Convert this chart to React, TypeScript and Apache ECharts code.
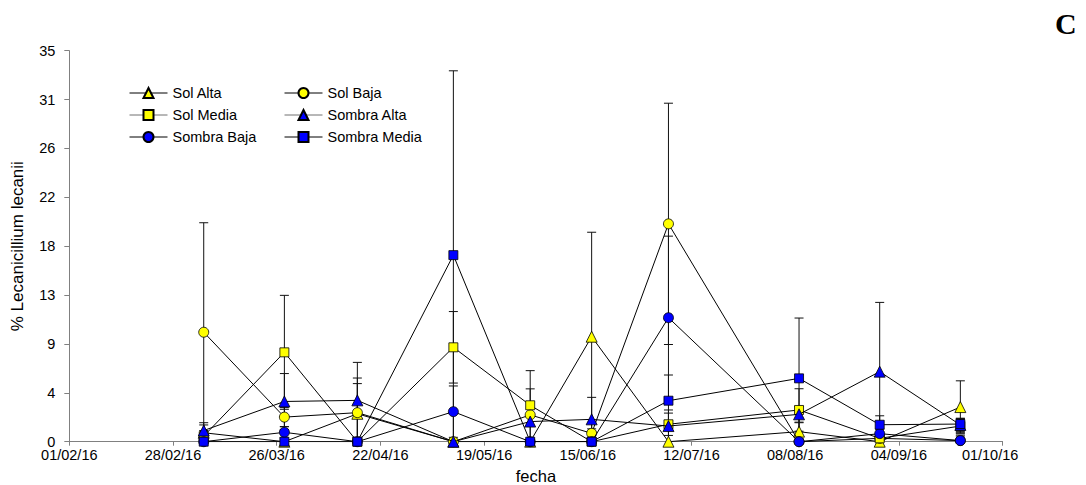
import React, { useEffect, useRef } from "react";
import * as echarts from "echarts";

// ---- data ----
const sampleDates = [
  "2016-03-07", "2016-03-28", "2016-04-16", "2016-05-11", "2016-05-31",
  "2016-06-16", "2016-07-06", "2016-08-09", "2016-08-30", "2016-09-20",
];

const solAlta = [0.8, 0, 2.5, 0, 0, 9.4, 0, 0.9, 0, 3.1];
const solAltaErr = [0.7, 0, 2.7, 0, 0, 9.35, 0, 0.8, 0, 2.35];

const solBaja = [9.8, 2.2, 2.6, 0, 2.4, 0.75, 19.5, 0, 0.3, 0.1];
const solBajaErr = [9.8, 0.85, 3.1, 0, 2.33, 0.4, 10.8, 0, 0.3, 0.4];

const solMedia = [0.5, 8.0, 0, 8.45, 3.26, 0, 1.56, 2.84, 0.3, 1.4];
const solMediaErr = [0.5, 5.1, 0, 3.2, 3.1, 0, 1.0, 1.9, 0.3, 0.6];

const sombraAlta = [1.0, 3.6, 3.7, 0, 1.8, 2.0, 1.4, 2.45, 6.27, 1.5];
const sombraAltaErr = [0.7, 2.5, 3.4, 0, 0.4, 1.97, 1.44, 0.7, 6.2, 0.6];

const sombraBaja = [0, 0.84, 0, 2.69, 0, 0, 11.1, 0, 0.72, 0.1];
const sombraBajaErr = [0, 0.5, 0, 2.3, 0, 0, 7.3, 0, 0.4, 0.5];

const sombraMedia = [0, 0, 0, 16.7, 0, 0, 3.67, 5.67, 1.52, 1.58];
const sombraMediaErr = [0, 0, 0, 16.5, 0, 0, 2.3, 5.4, 0.8, 0.5];

const xAxisStart = "2016-02-01";
const xAxisEnd = "2016-10-01";
const xTickDays = 27;
const yMax = 35;
const yTickStep = 4.375;

const DAY = 86400000;
const parseDate = (s: string) => {
  const [y, m, d] = s.split("-").map(Number);
  return Date.UTC(y, m - 1, d);
};
const ORIGIN = parseDate(xAxisStart);
const toDay = (s: string) => Math.round((parseDate(s) - ORIGIN) / DAY);
const pad = (n: number) => (n < 10 ? "0" + n : "" + n);
const fmtDay = (v: number) => {
  const dt = new Date(ORIGIN + Math.round(v) * DAY);
  return pad(dt.getUTCDate()) + "/" + pad(dt.getUTCMonth() + 1) + "/" + pad(dt.getUTCFullYear() % 100);
};

const YELLOW = "#FFFF00";
const BLUE = "#0000FF";
const BLACK = "#000000";
const LEGEND_GRAY = "#707070";
const AXIS_GRAY = "#808080";
const FONT = "'Liberation Sans', Arial, sans-serif";

const seriesDefs = [
  { name: "Sol Alta", values: solAlta, err: solAltaErr, symbol: "triangle", size: 11, fill: YELLOW, line: BLACK },
  { name: "Sol Baja", values: solBaja, err: solBajaErr, symbol: "circle", size: 10, fill: YELLOW, line: BLACK },
  { name: "Sol Media", values: solMedia, err: solMediaErr, symbol: "rect", size: 9, fill: YELLOW, line: LEGEND_GRAY },
  { name: "Sombra Alta", values: sombraAlta, err: sombraAltaErr, symbol: "triangle", size: 11, fill: BLUE, line: LEGEND_GRAY },
  { name: "Sombra Baja", values: sombraBaja, err: sombraBajaErr, symbol: "circle", size: 10, fill: BLUE, line: BLACK },
  { name: "Sombra Media", values: sombraMedia, err: sombraMediaErr, symbol: "rect", size: 9, fill: BLUE, line: BLACK },
];

export default function App() {
  const ref = useRef<HTMLDivElement>(null);

  useEffect(() => {
    document.body.style.margin = "0";
    if (!ref.current) return;
    const chart = echarts.init(ref.current, undefined, { renderer: "svg" });
    const days = sampleDates.map(toDay);
    const xMax = toDay(xAxisEnd);

    const errData: any[] = [];
    seriesDefs.forEach((s, si) => {
      s.values.forEach((v, i) => {
        const e = s.err[i];
        if (e > 0) errData.push([days[i], Math.max(0, v - e), v + e, si]);
      });
    });

    const errSeries = {
      type: "custom",
      name: "err",
      silent: true,
      z: 1,
      data: errData,
      encode: { x: 0, y: [1, 2] },
      renderItem: (params: any, api: any) => {
        const x = api.value(0);
        const lo = api.coord([x, api.value(1)]);
        const hi = api.coord([x, api.value(2)]);
        const hw = 4.5;
        const style = { stroke: "#111", lineWidth: 1 };
        const children: any[] = [
          { type: "line", shape: { x1: hi[0], y1: hi[1], x2: lo[0], y2: lo[1] }, style },
          { type: "line", shape: { x1: hi[0] - hw, y1: hi[1], x2: hi[0] + hw, y2: hi[1] }, style },
        ];
        if (api.value(1) > 0) {
          children.push({ type: "line", shape: { x1: lo[0] - hw, y1: lo[1], x2: lo[0] + hw, y2: lo[1] }, style });
        }
        return { type: "group", children };
      },
    };

    const lineSeries = seriesDefs.map((s, si) => ({
      type: "line",
      name: s.name,
      data: s.values.map((v, i) => [days[i], v]),
      symbol: s.symbol,
      symbolSize: s.size,
      showAllSymbol: true,
      z: 2 + si,
      lineStyle: { color: BLACK, width: 1 },
      itemStyle: { color: s.fill, borderColor: BLACK, borderWidth: 0.8 },
    }));

    const legendData1 = ["Sol Alta", "Sol Media", "Sombra Baja"];
    const legendData2 = ["Sol Baja", "Sombra Alta", "Sombra Media"];
    const legendItems = (names: string[]) =>
      names.map((n) => {
        const d = seriesDefs.find((s) => s.name === n)!;
        return { name: n, lineStyle: { color: d.line, width: 1 } };
      });

    const legendCommon = {
      orient: "vertical",
      padding: 0,
      itemWidth: 38,
      itemHeight: 12.5,
      itemGap: 7,
      textStyle: { fontFamily: FONT, fontSize: 14.5, color: "#000" },
      selectedMode: false,
    };

    const tickFont = { fontFamily: FONT, fontSize: 14.5, color: "#000" };

    chart.setOption({
      animation: false,
      backgroundColor: "#ffffff",
      textStyle: { fontFamily: FONT },
      grid: {
        left: 69.3,
        right: 83.4,
        top: 50.7,
        bottom: 43.3,
        containLabel: false,
        outerBoundsMode: "none",
      },
      legend: [
        { ...legendCommon, left: 129, top: 85.5, data: legendItems(legendData1) },
        { ...legendCommon, left: 284, top: 85.5, data: legendItems(legendData2) },
      ],
      xAxis: {
        type: "value",
        min: 0,
        max: xMax,
        interval: xTickDays,
        name: "fecha",
        nameLocation: "middle",
        nameGap: 28,
        nameMoveOverlap: false,
        nameTextStyle: { fontFamily: FONT, fontSize: 16.5, lineHeight: 12, color: "#000", verticalAlign: "top" },
        axisLine: { show: true, lineStyle: { color: AXIS_GRAY, width: 1 } },
        axisTick: { show: true, length: 4, lineStyle: { color: AXIS_GRAY } },
        splitLine: { show: false },
        axisLabel: {
          ...tickFont,
          lineHeight: 15,
          margin: 6,
          formatter: (v: number) =>
            Math.round(v) === xMax ? "{last|" + fmtDay(v) + "}" : fmtDay(v),
          rich: { last: { ...tickFont, lineHeight: 15, padding: [0, 25, 0, 0] } },
        },
      },
      yAxis: {
        type: "value",
        min: 0,
        max: yMax,
        interval: yTickStep,
        offset: 7,
        name: "% Lecanicillium lecanii",
        nameLocation: "middle",
        nameGap: 36,
        nameMoveOverlap: false,
        nameTextStyle: { fontFamily: FONT, fontSize: 17, color: "#000" },
        axisLine: { show: true, lineStyle: { color: AXIS_GRAY, width: 1 } },
        axisTick: { show: true, length: 5, lineStyle: { color: AXIS_GRAY } },
        splitLine: { show: false },
        axisLabel: {
          ...tickFont,
          lineHeight: 10,
          margin: 7,
          formatter: (v: number) => String(Math.round(v)),
        },
      },
      graphic: [
        {
          type: "text",
          left: 1055,
          top: 8,
          style: {
            text: "C",
            fontFamily: "'Liberation Serif', 'Times New Roman', serif",
            fontWeight: "bold",
            fontSize: 30,
            fill: "#000",
          },
        },
      ],
      series: [errSeries, ...lineSeries],
    });

    return () => chart.dispose();
  }, []);

  return <div ref={ref} style={{ width: 1086, height: 485 }} />;
}
